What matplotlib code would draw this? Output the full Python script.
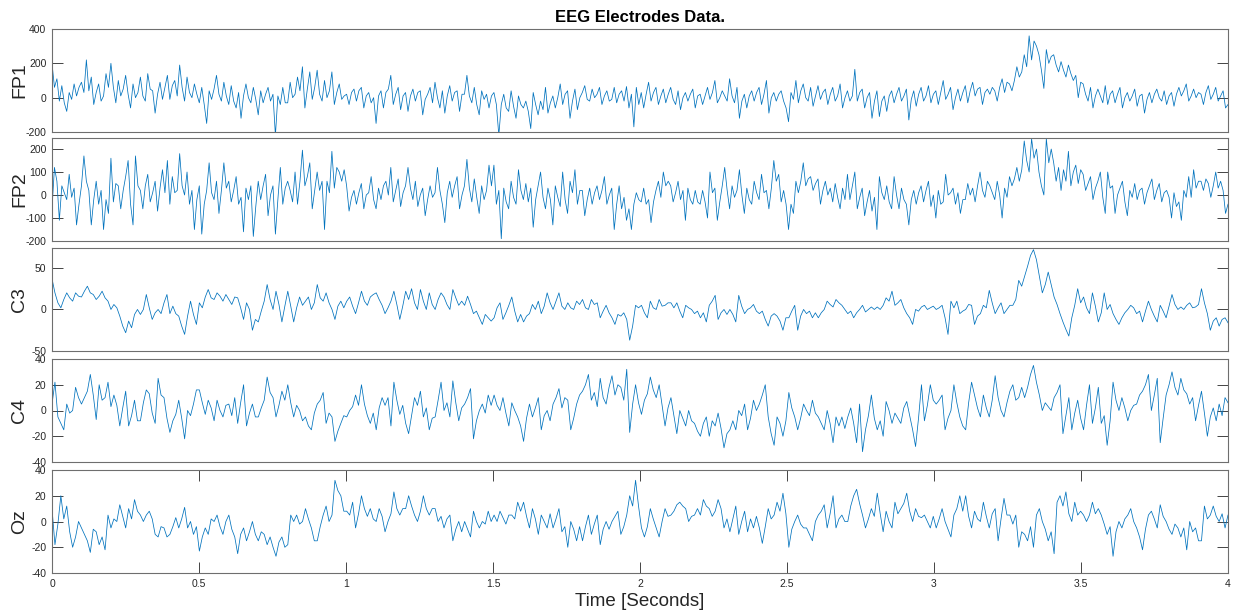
import numpy as np
import matplotlib.pyplot as plt

plt.rcParams['font.family'] = ['Liberation Sans', 'DejaVu Sans']
plt.rcParams['axes.unicode_minus'] = False

# EEG samples per electrode, one row per 0.1 s
fp1 = [
    200, 60, 110, -20, 70, -30, -80, 30, -10, 80, 10, 60,
    90, 30, 220, 40, 120, -40, 30, 80, -20, 10, 140, 60,
    200, 60, -30, 100, 10, 50, 130, 20, -60, 80, 0, 30,
    120, 10, -20, 140, 50, 40, -90, 20, 90, -10, 60, 130,
    -10, 70, 100, 10, 190, 60, -20, 120, 30, 0, 80, 20,
    -30, 60, -40, -150, 40, -10, 50, 130, 20, -20, 90, 10,
    -40, 70, -20, -60, 30, -120, 10, 80, 0, -30, 60, -10,
    -100, 40, -30, 20, 60, -20, 20, -220, 10, -40, 60, -30,
    -30, 90, 0, 20, 120, 40, 180, -60, 50, 150, -10, 60,
    160, 20, -20, 100, 0, 40, 150, -40, 30, 80, -10, 10,
    20, -40, 30, 50, -20, 40, 60, -60, 10, 30, -30, 0,
    -150, 10, 40, -60, 30, 50, 130, -40, 20, 60, -70, 10,
    30, -80, 10, 50, -20, 30, 40, -100, -10, 20, 60, -30,
    90, 0, -60, 40, -90, 10, 70, -20, 30, 40, -80, 20,
    20, 130, 10, -30, 60, -40, -100, 40, -10, 20, -60, 10,
    30, -40, -220, -40, 20, -60, -80, 40, -50, -120, 10, -40,
    -60, -20, -80, -180, 30, -40, -100, -20, -70, 60, -90, -30,
    10, -60, 0, 80, -40, 20, 40, -120, -20, 50, -70, 0,
    30, 70, -10, -20, 50, 0, 20, 60, -40, 10, 40, -20,
    -10, 60, -30, 20, 40, -20, 65, -60, 20, -170, 60, -40,
    30, -60, 20, 90, -20, 30, 60, -40, 10, 50, -30, 20,
    60, -10, -40, 40, -70, 0, 30, -20, 20, 50, -60, 10,
    20, -40, 10, 60, -10, 30, 100, -30, 0, 40, 10, -20,
    110, 10, -30, 60, -120, -20, 20, -60, 10, 40, -20, 30,
    60, -40, 20, 100, -90, 0, 30, -20, 20, 40, -20, -60,
    -140, 30, -10, 100, -30, 40, 80, 0, -20, 60, -50, 10,
    70, -10, 30, 50, -40, 20, 60, -20, 10, 80, -60, 0,
    40, -20, 10, 165, -20, 30, 50, -60, 0, 30, -120, -20,
    40, -110, -20, 10, -80, 10, 40, -30, 20, 60, -20, 10,
    50, -130, -10, 40, -50, 20, 60, -20, 10, 70, -30, 20,
    40, -40, 30, 100, -10, 20, 60, -70, 0, 50, -20, 30,
    70, -30, 40, 90, 10, 50, 60, -40, 30, 50, 20, 60,
    40, -20, 60, 110, 30, 90, 80, 40, 100, 180, 120, 150,
    250, 180, 360, 220, 330, 300, 250, 160, 54, 280, 200, 240,
    250, 190, 150, 210, 160, 120, 190, 140, 100, 130, 0, 90,
    80, 20, -20, 60, -60, 10, 50, 10, -30, 70, -40, 20,
    40, -30, 20, 60, -60, 0, 30, -20, 10, 50, -50, 10,
    20, -90, -10, 30, -30, 20, 50, 0, -20, 40, -40, 10,
    30, -50, 20, 60, 10, 40, 80, -20, 10, 50, 0, 30,
    20, -40, 30, 70, -10, 20, 60, -20, 10, 40, -60, -40,
]

fp2 = [
    -60, 120, 60, -110, 40, 10, -20, 90, -10, 30, -130, -40,
    40, 170, 60, 20, -130, -20, 60, -40, 20, -150, -20, -80,
    160, -30, 50, 40, -60, 20, 80, 150, -40, -130, 170, 40,
    20, -60, 40, 90, -30, 10, 60, -70, 30, 110, 10, 150,
    -40, 80, 10, 20, 180, 40, 0, 100, -40, 20, -150, -20,
    40, -170, -40, 20, 140, 10, -20, 60, -80, 20, 140, 30,
    60, -30, 20, 80, -40, -10, -160, 30, -20, 40, -180, -50,
    60, -20, 40, 90, -90, 0, 40, -170, -20, 120, -40, 30,
    60, 20, -30, 100, -40, 60, 195, 40, 80, 140, -60, 20,
    100, 20, 60, -150, 60, 10, 190, 30, 120, 100, 60, 110,
    40, -70, -10, 20, -40, 10, 50, -60, 0, 10, 80, -20,
    -60, 30, -20, 40, 60, 0, 120, -30, 20, 70, -50, 10,
    40, 120, 30, -20, 60, -50, 0, 30, -90, -20, 40, -10,
    10, 120, 20, -40, -120, 10, 60, -10, 40, 80, -60, 0,
    40, 155, 30, -30, 70, -10, -80, 40, -20, 20, 130, 40,
    130, -40, 20, -190, 30, -30, -60, 60, -10, -40, 110, 20,
    -20, 50, -30, 30, -140, -20, 40, 100, -10, -60, 30, -20,
    -130, 40, -10, -50, 100, -20, -80, 60, 10, 110, -40, 20,
    20, -90, -20, 30, -40, 10, 40, -20, 20, 80, -40, 0,
    30, -150, -40, 40, -60, -10, -110, -60, -150, -40, 10, -20,
    -30, 30, -40, -20, -120, -30, 20, 60, -10, 100, 40, 60,
    40, -30, 10, 60, -20, 20, -110, 30, -20, -40, 20, -30,
    -40, 20, -30, -100, 100, 10, 30, -110, -30, 40, 120, 20,
    -60, 40, -10, 20, 110, 0, -80, 30, -20, -40, 60, 10,
    -20, 90, 10, 20, -60, 30, 150, 60, 90, -30, 20, -40,
    -150, -40, -80, 60, 10, 60, 140, 40, 70, 80, 20, 50,
    70, -40, 20, 60, 0, 30, -30, 50, -10, -60, 30, -20,
    90, -20, 40, 100, -60, -10, 30, -90, -30, 20, -70, -10,
    -150, 80, 10, -20, 40, -30, -60, 80, 0, -60, 30, -20,
    -40, -130, -20, 20, -40, 10, 40, -30, 20, 60, -50, 0,
    -100, 20, -40, -30, 90, 0, 10, 30, -40, 10, -80, -20,
    -20, 50, 0, 30, -30, 40, 100, 20, -10, 60, 40, 10,
    -20, 60, 0, -100, 30, -10, 80, 40, 70, 120, 60, 110,
    235, 150, 100, 245, 160, 200, 100, 40, 0, 245, 140, 200,
    140, 60, 120, 20, 110, 60, 190, 40, 100, 130, 50, 110,
    90, 20, 50, 80, -20, 30, 60, 100, -10, -80, 100, 30,
    40, -80, 0, 30, 60, -30, -90, 20, -10, 50, -20, 20,
    30, -40, 10, 40, 70, -20, 20, 50, -30, 10, 20, -10,
    -100, 10, -50, -30, -110, 20, -10, 80, -10, 110, 30, 60,
    60, 20, 70, 50, -10, 40, 100, 30, 60, 20, -80, -40,
]

c3 = [
    37, 20, 8, 2, 12, 20, 14, 10, 20, 16,
    15, 22, 28, 20, 18, 12, 16, 22, 14, 10,
    0, 6, 2, -8, -20, -28, -14, -22, -6, 0,
    -6, 0, 18, 2, -12, -4, 0, -5, 8, 18,
    -5, 4, -5, -8, -20, -30, -8, 10, -6, -18,
    8, 2, 15, 24, 14, 12, 20, 16, 10, 18,
    12, 6, 15, 14, 2, -12, 8, 0, -25, -12,
    -15, -2, 10, 30, 12, 0, 22, 6, -15, 4,
    22, 4, -15, 2, 15, 5, 10, 15, 0, 8,
    30, 14, 10, 20, 8, 0, -12, 4, 10, 2,
    10, 15, 4, -5, 8, 22, 10, 5, 15, 18,
    20, 12, 5, -5, 2, 10, 22, 6, -12, 4,
    22, 12, 25, 8, 0, 24, 10, 0, 20, 6,
    0, 12, 20, 15, 6, 0, 24, 14, 5, 10,
    5, 16, 6, -5, -2, -10, -18, -6, -10, -14,
    -10, 2, 8, -12, -4, 5, 15, -2, -15, -6,
    -15, -8, -5, 6, 0, 10, -5, 4, 20, 8,
    0, 10, 20, 4, 0, 8, 2, 0, 10, 6,
    12, 2, 0, 12, 6, 8, -10, -2, 5, -4,
    -10, -18, -6, -8, -4, -12, -37, -20, 5, 2,
    5, -4, -10, 10, 2, 0, 12, 4, 5, 8,
    8, 2, 8, -2, -10, 5, 2, 0, -5, -2,
    -10, -4, -15, 5, 10, 17, -12, -4, 0, -6,
    0, -6, -15, 17, 4, -5, 0, 2, 6, -2,
    -5, -2, -12, -20, -8, -5, -8, -14, -25, -10,
    -10, -2, 5, -25, -8, 0, -5, -2, -10, -4,
    -10, -4, 0, 10, 6, 3, 12, 8, 5, 0,
    -5, -2, -10, -4, 0, 5, -3, 0, 3, 0,
    3, 0, 5, 14, 10, 22, 5, 8, 12, 2,
    -5, -10, -18, 0, -2, 3, 5, 0, 2, 4,
    0, 2, 5, -10, -30, 10, 2, 10, -5, -2,
    0, 6, 5, -18, -8, -5, 5, 2, 23, 8,
    -5, 2, 8, -5, 0, 5, 5, 12, 35, 28,
    40, 52, 65, 72, 60, 40, 20, 30, 45, 30,
    15, 6, -5, -15, -24, -32, -10, 5, 25, 8,
    15, 2, -5, 20, 4, -15, -4, 20, 0, 6,
    -5, -12, -18, -10, -4, 0, 5, 2, -5, -2,
    -15, -2, 10, 0, -8, -15, 5, -2, -10, 4,
    18, 6, 0, 3, 0, 5, 8, 2, 3, 6,
    25, 8, -5, -25, -14, -10, -20, -12, -10, -16,
]

c4 = [
    5, 22, -5, -10, -15, 5, -2, 0, 18, 10,
    5, 10, 15, 28, 12, -7, 20, 8, 10, 22,
    3, 12, 4, -12, 2, 15, -12, -4, 8, -8,
    -8, 6, 16, 13, -2, -10, 25, 12, 10, -6,
    -17, -8, -3, 8, -6, -22, 0, -4, 5, 16,
    16, 6, -3, 8, 2, -8, 8, 0, -5, 4,
    5, -4, 10, -10, 6, 20, -12, -2, 5, -5,
    -5, 2, 8, 26, 14, 10, -5, 4, 15, 8,
    20, 6, -5, 4, 0, -8, -5, -12, -15, -2,
    5, 8, 14, -10, -2, -5, -24, -16, -10, -4,
    -5, 0, 3, 12, 4, 20, 5, -4, -10, -2,
    -15, 2, 10, 4, 10, -12, 22, 8, -3, 4,
    -10, -18, -4, 10, 4, 15, -5, 2, -15, -6,
    -5, 8, 22, 0, 6, -5, 23, 6, -8, 2,
    5, 10, 17, -22, -8, 0, 5, -2, 12, 4,
    12, 4, 0, 10, -2, -12, 6, 0, -5, -12,
    -24, -6, 5, -5, 2, 10, -15, -4, 0, -8,
    5, 10, 17, 2, 10, 8, -15, -6, 5, 12,
    15, 20, 28, 8, 14, 3, 25, 10, 5, 18,
    27, 12, 20, 18, 8, 32, -17, 5, 20, 6,
    -3, 8, 13, 26, 16, 10, 20, 4, -12, 2,
    10, -4, -18, 0, -6, -12, 0, -8, -10, -16,
    -20, -10, -5, -20, -8, -12, -2, -14, -29, -18,
    -15, -8, -15, 0, -4, 5, -15, -6, 8, 0,
    5, 12, 20, -5, -18, -27, -5, -10, -20, -8,
    14, 2, -5, -15, -6, 5, 0, -4, 8, -2,
    -5, -10, -15, 0, -10, -25, -5, -12, -5, -14,
    -5, 2, -10, -25, 5, -32, -15, -4, 12, -6,
    -15, -8, -20, 7, 0, -10, -2, -6, -10, 2,
    7, -4, -15, -28, -6, 20, -8, 4, 20, 8,
    5, 8, 12, -15, -6, 0, 20, 6, -5, -12,
    -15, 6, 22, 12, 2, -5, 12, 2, -5, 8,
    27, 10, 0, -5, 6, 15, 20, 8, 10, 18,
    10, 18, 28, 35, 22, 12, 0, 6, 3, 0,
    10, 14, 20, -18, -4, 10, -15, -2, 8, -6,
    -15, 4, 20, -10, 2, 18, -10, -4, -27, -8,
    22, 8, 0, 10, 2, -8, 0, 4, 5, 12,
    15, 20, 28, 0, 12, 25, -25, -6, 12, 20,
    30, 18, 12, 25, 16, 13, 5, 10, -8, 4,
    15, -2, -20, -5, 2, -8, 5, -4, 10, 6,
]

oz = [
    10, -18, -2, 20, 2, 12, -8, -20, -12, 0,
    -5, -10, -15, -24, -6, -8, -18, -12, -22, 5,
    -5, 2, 0, 13, 4, -5, 10, 2, 17, 8,
    5, 0, 5, 8, 2, -10, -12, -4, -5, -12,
    -10, -4, 3, -5, 2, 11, -5, 0, -10, -4,
    -23, -12, -5, -10, 2, 0, 5, -4, -10, 0,
    5, -6, -12, -25, -10, -5, -15, -8, 0, -10,
    -15, -8, -10, -18, -12, -20, -27, -16, -12, -20,
    -18, 5, 0, 5, -2, 0, 10, 2, -5, -15,
    -15, -4, 5, 12, 0, 5, 32, 24, 20, 8,
    8, 5, 15, -5, 6, 20, 10, 4, 10, 2,
    0, 10, 4, -8, 0, 6, 23, 10, 5, 10,
    10, 20, 12, 5, 0, 8, 20, 10, 5, 10,
    10, 0, 4, -5, 2, 5, -15, -6, 0, -8,
    0, -6, -12, 8, 0, -5, 0, -2, 8, 0,
    5, 0, 8, 3, -2, 5, 5, 2, 15, 8,
    15, 4, -5, 10, 2, -10, 5, 0, -5, 6,
    -5, 2, 10, -8, -4, -20, 0, -6, -15, -4,
    -15, -4, 5, -10, -2, 5, -18, -6, 0, -6,
    0, 4, 8, -10, -4, 5, 20, 12, 32, 12,
    -5, -12, -4, 10, 2, -5, -12, 0, 10, 4,
    5, 8, 13, 15, 12, 10, 0, 4, 5, 10,
    5, 17, 12, 10, 4, 8, 17, 10, -5, 2,
    -8, 2, 12, -10, 0, 8, -8, 2, -5, 4,
    -5, -17, -4, 10, 2, 5, 15, 8, 22, 6,
    -20, -6, 0, 5, -2, -5, -5, -10, -15, 0,
    5, 8, 13, -5, 6, 20, -5, 2, 5, 0,
    0, 12, 20, 25, 14, 5, -5, 2, 10, 4,
    22, 6, -8, 8, 0, -5, 15, 6, 10, 14,
    22, 8, 0, 10, 4, 3, 5, 0, -5, 4,
    -5, 2, 10, 0, -6, -12, 5, 10, 20, 8,
    20, 4, -5, 8, 2, 0, 15, 4, -5, 6,
    10, -15, 2, 18, 5, 5, -2, 5, -20, -8,
    -10, -15, -4, -20, 5, 10, 0, -6, -15, -8,
    -25, 15, 20, 12, 23, 6, 0, 15, 5, 8,
    5, 0, 5, 15, 6, 10, 5, -2, -10, -4,
    -27, -8, 0, -5, 2, 5, 10, 0, -5, -12,
    -22, -6, 5, 8, 2, -5, 13, 4, 0, -6,
    -10, -2, -5, -12, -5, -22, 0, -8, -5, -15,
    -15, 12, 2, 5, 12, 4, 0, 6, -5, 5,
]

channels = ['FP1', 'FP2', 'C3', 'C4', 'Oz']
signals = [fp1, fp2, c3, c4, oz]
ylims = [(-200, 400), (-200, 248), (-50, 74), (-40, 40), (-40, 40)]
yticks = [[-200, 0, 200, 400], [-200, -100, 0, 100, 200],
          [-50, 0, 50], [-40, -20, 0, 20, 40], [-40, -20, 0, 20, 40]]
xticks = [0, 0.5, 1, 1.5, 2, 2.5, 3, 3.5, 4]
xticklabels = ['0', '0.5', '1', '1.5', '2', '2.5', '3', '3.5', '4']

W, H = 1235, 612
fig = plt.figure(figsize=(W / 100, H / 100), dpi=100)

tops = [29, 138, 248, 359, 470]
box_h = 103
axes = []
for i, (name, sig) in enumerate(zip(channels, signals)):
    ax = fig.add_axes([52 / W, 1 - (tops[i] + box_h) / H, 1176 / W, box_h / H])
    t = np.linspace(0, 4, len(sig))
    ax.plot(t, sig, color='#0072BD', lw=0.55)
    ax.set_xlim(0, 4)
    ax.set_ylim(*ylims[i])
    ax.set_yticks(yticks[i])
    ax.tick_params(direction='in', length=8, width=0.6, color='#262626',
                   labelcolor='#262626', labelsize=7.5, right=True, top=True, pad=4)
    for s in ax.spines.values():
        s.set_color('#6e6e6e')
        s.set_linewidth(0.8)
    ax.set_ylabel(name, fontsize=14, color='#262626')
    ax.yaxis.set_label_coords(-0.020, 0.5)
    if i < len(channels) - 1:
        ax.set_xticks([])
    else:
        ax.set_xticks(xticks)
        ax.set_xticklabels(xticklabels)
        ax.set_xlabel('Time [Seconds]', fontsize=13.5, color='#262626', labelpad=3)
    axes.append(ax)

axes[0].set_title('EEG Electrodes Data.', fontweight='bold', fontsize=12, pad=5)

fig.savefig('out.png', dpi=100)
